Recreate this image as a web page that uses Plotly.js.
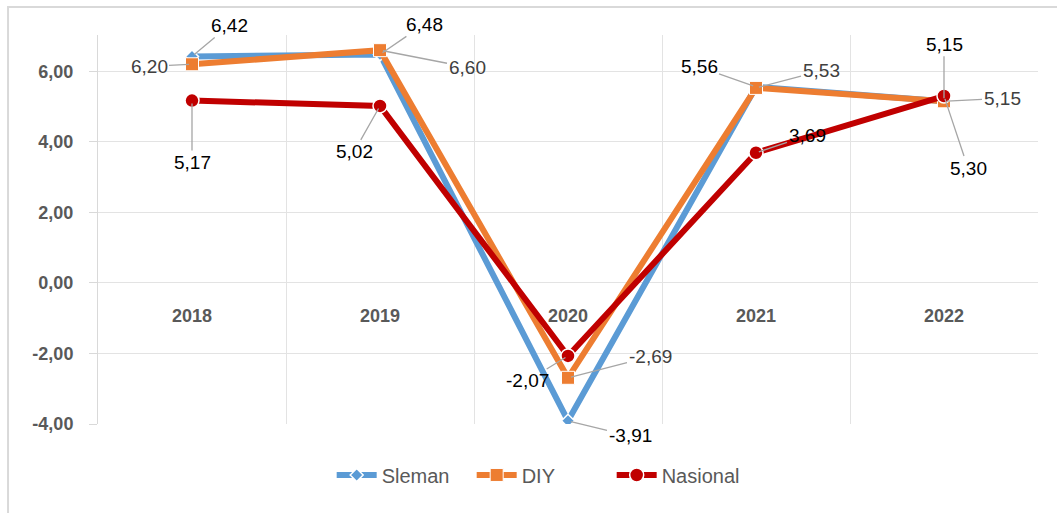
<!DOCTYPE html>
<html><head><meta charset="utf-8">
<script src="https://cdn.plot.ly/plotly-3.0.1.min.js"></script>
<style>html,body{margin:0;padding:0;background:#fff}#chart{width:1057px;height:513px}</style>
</head><body><div id="chart"></div>
<script>
const years = ["2018", "2019", "2020", "2021", "2022"];
const sleman = [6.42, 6.48, -3.91, 5.56, 5.15];
const diy = [6.20, 6.60, -2.69, 5.53, 5.15];
const nasional = [5.17, 5.02, -2.07, 3.69, 5.30];
const seriesNames = ["Sleman", "DIY", "Nasional"];
const yTicks = [-4, -2, 0, 2, 4, 6];

// label offsets (pixels) for data-label callouts
const offs = {
  Sleman:   [[37,-31],[44,-30],[62,15],[-57,-20],[0,-57]],
  DIY:      [[-43,2],[87,17],[82,-21],[65,-17],[58,-3]],
  Nasional: [[0,62],[-26,46],[-41,25],[51,-17],[24,72]]
};
const labelColor = {Sleman:'#000000', DIY:'#404040', Nasional:'#000000'};

const FONT = 'Liberation Sans, Arial, sans-serif';
const fmt = v => v.toFixed(2).replace('.', ',');

const traces = [
  {x: years, y: sleman, name: seriesNames[0], type: 'scatter', mode: 'lines+markers',
   line: {color: '#5B9BD5', width: 6}, marker: {symbol: 'diamond', size: 10, color: '#5B9BD5', line: {color: '#fff', width: 1.5}}},
  {x: years, y: diy, name: seriesNames[1], type: 'scatter', mode: 'lines+markers',
   line: {color: '#ED7D31', width: 6}, marker: {symbol: 'square', size: 13, color: '#ED7D31', line: {color: '#fff', width: 1}}},
  {x: years, y: nasional, name: seriesNames[2], type: 'scatter', mode: 'lines+markers',
   line: {color: '#C00000', width: 6}, marker: {symbol: 'circle', size: 14, color: '#C00000', line: {color: '#fff', width: 1.5}}}
];

const annotations = [];
[[seriesNames[0], sleman], [seriesNames[1], diy], [seriesNames[2], nasional]].forEach(([nm, vals]) => {
  vals.forEach((v, i) => {
    annotations.push({
      x: i, y: v, xref: 'x', yref: 'y', text: fmt(v),
      showarrow: true, arrowhead: 0, arrowwidth: 1.3, arrowcolor: '#a6a6a6',
      ax: offs[nm][i][0], ay: offs[nm][i][1], standoff: 3,
      font: {family: FONT, size: 19, color: labelColor[nm]}
    });
  });
});

const layout = {
  width: 1057, height: 513,
  margin: {l: 98, r: 19, t: 35, b: 89},
  paper_bgcolor: '#fff', plot_bgcolor: '#fff',
  showlegend: true,
  legend: {orientation: 'h', x: 0.472, xanchor: 'center', y: -0.131, yanchor: 'middle',
           font: {family: FONT, size: 20, color: '#595959'}, traceorder: 'normal', itemwidth: 40,
           entrywidth: 85},
  xaxis: {type: 'category', categoryorder: 'array', categoryarray: years, range: [-0.5, 4.5],
          autorange: false, tickangle: 0,
          anchor: 'free', position: 0.3625, tickson: 'boundaries', showgrid: true,
          gridcolor: '#e3e3e3', gridwidth: 1, ticks: '', showline: false, zeroline: false,
          ticklabelstandoff: 20,
          tickfont: {family: FONT, size: 18, color: '#595959', weight: 'bold'}},
  yaxis: {range: [-4, 7.03], autorange: false, tickmode: 'array', tickvals: yTicks,
          ticktext: yTicks.map(fmt), showgrid: true,
          gridcolor: '#e3e3e3', gridwidth: 1, zeroline: false, showline: true, linecolor: '#d9d9d9',
          ticks: 'outside', ticklen: 8, tickcolor: '#d9d9d9', ticklabelstandoff: 12,
          tickfont: {family: FONT, size: 18, color: '#595959', weight: 'bold'}},
  shapes: [{type: 'rect', xref: 'paper', yref: 'paper', x0: -0.0957, x1: 1.2, y0: -0.4, y1: 1.072,
            line: {color: '#d9d9d9', width: 2}, fillcolor: 'rgba(0,0,0,0)', layer: 'below'}],
  annotations: annotations
};

Plotly.newPlot('chart', traces, layout, {displayModeBar: false, staticPlot: true});
</script></body></html>
